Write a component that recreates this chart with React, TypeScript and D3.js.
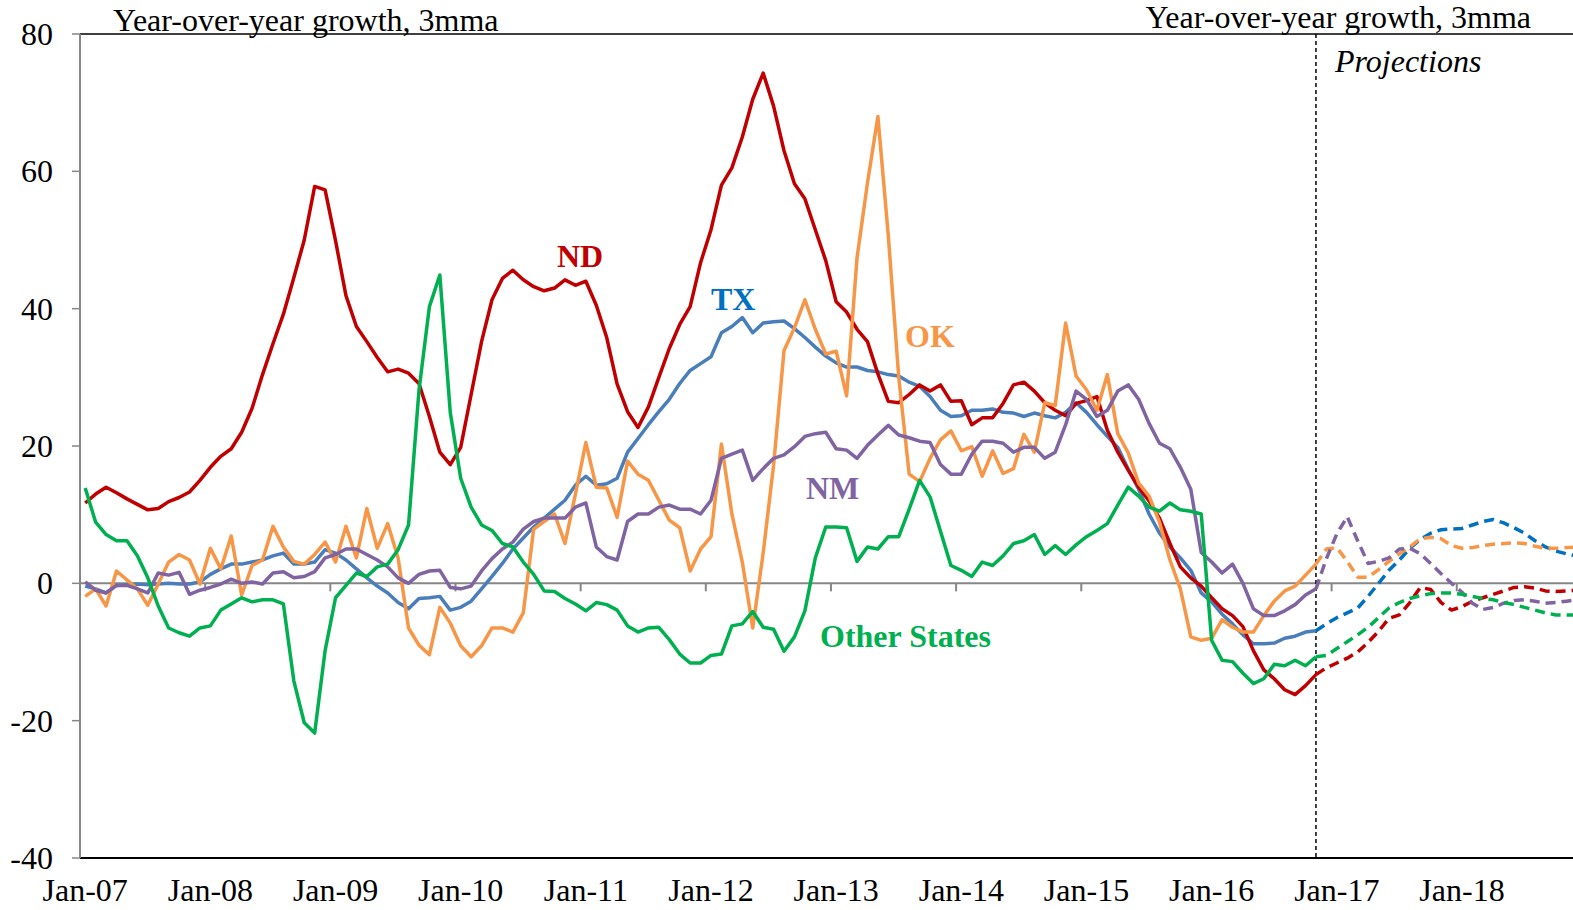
import React, { useEffect, useRef } from "react";
import * as d3 from "d3";

// tick labels on the x axis (one per January)
const tickLabels = [
  "Jan-07", "Jan-08", "Jan-09", "Jan-10", "Jan-11", "Jan-12",
  "Jan-13", "Jan-14", "Jan-15", "Jan-16", "Jan-17", "Jan-18",
];
const yTicks = [80, 60, 40, 20, 0, -20, -40];

// actual data, Jan-07 .. Nov-16 (119 months)
const nd = [
  11.7, 13.0, 14.0, 13.2, 12.3, 11.5, 10.7, 10.9, 11.9, 12.5,
  13.3, 15.0, 16.9, 18.5, 19.6, 22.0, 25.5, 30.4, 34.9, 39.2,
  44.5, 50.0, 57.8, 57.3, 49.9, 41.9, 37.4, 35.2, 32.9, 30.8,
  31.2, 30.6, 29.1, 24.3, 19.1, 17.3, 19.8, 27.5, 35.2, 41.3,
  44.4, 45.6, 44.2, 43.2, 42.6, 43.0, 44.2, 43.4, 44.0, 40.5,
  35.8, 29.0, 25.0, 22.7, 25.7, 30.0, 34.2, 37.7, 40.3, 46.7,
  51.5, 58.0, 60.5, 65.0, 70.5, 74.3, 69.5, 63.0, 58.2, 56.0,
  51.5, 47.0, 41.0, 39.5, 37.0, 35.2, 30.5, 26.5, 26.3, 27.5,
  28.9, 28.0, 28.9, 26.5, 26.6, 23.1, 24.1, 24.1, 26.2, 28.9,
  29.3, 28.0, 26.3, 25.2, 24.4, 26.2, 26.6, 27.2, 22.3, 19.1,
  16.5, 14.0, 12.0, 9.5, 5.8, 2.4, 0.8, -0.4, -2.1, -3.7,
  -4.7, -6.3, -9.8, -12.6, -13.9, -15.5, -16.2, -14.9, -13.3,
];
const tx = [
  -0.4, -0.8, -1.4, -0.3, -0.2, -0.1, -0.2, -0.1, 0.0, -0.1,
  -0.1, 0.2, 1.3, 2.1, 2.8, 2.8, 3.1, 3.4, 4.0, 4.4,
  2.8, 2.8, 3.1, 4.9, 4.4, 3.4, 2.1, 0.8, -0.4, -1.4,
  -2.8, -3.7, -2.2, -2.1, -1.9, -3.9, -3.5, -2.6, -0.8, 1.0,
  2.9, 5.0, 6.6, 8.2, 9.5, 10.8, 12.1, 14.3, 15.6, 14.3,
  14.5, 15.3, 19.1, 21.1, 23.1, 25.0, 26.8, 29.1, 31.0, 32.0,
  33.0, 36.5, 37.4, 38.7, 36.5, 37.9, 38.1, 38.2, 37.1, 35.8,
  34.4, 33.1, 32.1, 31.5, 31.5, 31.0, 30.8, 30.4, 30.2, 29.3,
  28.7, 27.2, 25.2, 24.3, 24.4, 25.2, 25.2, 25.4, 24.9, 24.8,
  24.3, 24.8, 24.4, 24.1, 24.9, 26.3, 24.9, 23.1, 21.4, 19.8,
  16.6, 13.7, 10.1, 7.3, 5.3, 3.7, 1.9, -1.4, -2.7, -4.5,
  -5.9, -7.5, -8.8, -8.8, -8.7, -8.0, -7.7, -7.1, -6.9,
];
const ok = [
  -1.9, -0.8, -3.3, 1.8, 0.5, -0.8, -3.2, -0.1, 3.1, 4.2,
  3.4, -0.1, 5.1, 2.1, 6.9, -1.7, 2.6, 3.4, 8.3, 5.3,
  3.2, 2.8, 4.2, 6.0, 3.1, 8.3, 3.7, 10.9, 5.1, 8.7,
  3.7, -6.5, -9.0, -10.4, -3.5, -5.8, -9.1, -10.7, -9.1, -6.5,
  -6.5, -7.1, -4.3, 7.9, 9.0, 10.1, 5.8, 13.0, 20.5, 14.0,
  13.9, 9.6, 17.8, 15.9, 15.0, 12.1, 9.2, 8.1, 1.8, 5.0,
  6.8, 20.3, 10.1, 3.1, -6.5, 4.4, 17.2, 33.9, 37.2, 41.3,
  37.0, 33.4, 33.8, 27.3, 47.4, 58.3, 68.0, 50.6, 30.0, 15.9,
  14.8, 18.2, 20.9, 22.2, 19.3, 19.9, 15.6, 19.3, 16.0, 16.7,
  21.7, 19.1, 26.3, 25.9, 37.9, 30.2, 28.2, 25.2, 30.4, 21.8,
  19.0, 14.6, 12.7, 8.9, 3.4, -0.8, -7.8, -8.3, -8.0, -5.3,
  -6.4, -7.1, -7.1, -4.7, -2.6, -1.1, -0.4, 1.2, 2.8,
];
const nm = [
  0.2, -1.0, -1.4, -0.3, -0.3, -0.8, -1.4, 1.5, 1.2, 1.6,
  -1.6, -1.0, -0.6, -0.1, 0.6, 0.0, 0.2, -0.1, 1.5, 1.7,
  0.8, 1.0, 1.7, 3.7, 4.2, 5.0, 5.0, 4.2, 3.4, 2.4,
  0.8, 0.0, 1.3, 1.8, 1.9, -0.6, -0.8, -0.4, 1.8, 3.6,
  5.0, 6.0, 7.9, 9.0, 9.5, 9.5, 9.5, 11.1, 11.7, 5.3,
  3.9, 3.4, 9.0, 10.1, 10.1, 11.1, 11.4, 10.8, 10.8, 10.1,
  12.1, 18.2, 18.8, 19.4, 15.0, 16.7, 18.2, 18.7, 19.9, 21.4,
  21.8, 22.0, 19.6, 19.4, 18.2, 20.1, 21.6, 23.0, 21.6, 21.2,
  20.7, 20.5, 17.3, 15.9, 15.9, 18.8, 20.7, 20.7, 20.4, 19.1,
  19.8, 19.8, 18.2, 19.1, 23.1, 28.0, 26.8, 24.3, 25.2, 28.0,
  28.9, 26.8, 23.3, 20.4, 19.6, 16.9, 13.7, 4.5, 3.1, 1.5,
  2.8, 0.0, -3.7, -4.7, -4.7, -4.0, -3.1, -1.7, -0.8,
];
const other = [
  13.9, 8.9, 7.1, 6.2, 6.2, 4.0, 0.8, -3.3, -6.5, -7.2,
  -7.7, -6.5, -6.2, -3.9, -3.0, -2.1, -2.7, -2.4, -2.4, -3.0,
  -14.2, -20.3, -21.8, -9.8, -2.1, -0.3, 1.5, 1.0, 2.4, 2.8,
  4.9, 8.5, 28.1, 40.3, 44.9, 24.9, 15.3, 11.1, 8.5, 7.7,
  5.8, 5.3, 3.1, 1.3, -1.1, -1.2, -2.2, -3.0, -4.0, -2.8,
  -3.1, -3.9, -6.2, -7.1, -6.5, -6.4, -8.2, -10.3, -11.6, -11.6,
  -10.5, -10.3, -6.2, -5.9, -4.1, -6.4, -6.7, -9.9, -7.8, -4.0,
  3.7, 8.2, 8.2, 8.1, 3.2, 5.3, 5.0, 6.8, 6.8, 10.8,
  15.0, 12.6, 7.6, 2.6, 1.9, 1.0, 3.1, 2.6, 4.0, 5.8,
  6.2, 7.1, 4.2, 5.5, 4.2, 5.6, 6.8, 7.7, 8.7, 11.4,
  14.0, 12.7, 11.1, 10.5, 11.7, 10.7, 10.5, 10.1, -8.3, -11.2,
  -11.4, -13.1, -14.6, -13.9, -11.8, -12.0, -11.2, -12.0, -10.7,
];

// projections, Nov-16 .. Dec-18 (26 months)
const ndProj = [
  -13.3, -12.3, -11.6, -10.9, -10.0, -8.6, -7.0, -5.1, -4.6, -2.8, -0.6, -0.9, -2.8,
  -3.9, -3.4, -2.6, -2.1, -1.6, -1.1, -0.6, -0.5, -0.7, -1.1, -1.2, -1.1, -1.0,
];
const txProj = [
  -6.9, -5.9, -5.0, -4.3, -3.6, -1.9, 0.0, 1.9, 3.4, 5.1, 6.4, 7.3, 7.8,
  7.9, 8.0, 8.5, 9.0, 9.3, 8.8, 8.1, 7.3, 6.2, 5.3, 4.7, 4.3, 4.0,
];
const okProj = [
  2.8, 5.0, 5.2, 3.2, 0.9, 0.9, 2.0, 3.2, 4.3, 5.3, 6.5, 6.7, 6.5,
  5.5, 5.1, 5.2, 5.5, 5.7, 5.8, 5.9, 5.8, 5.4, 5.1, 5.1, 5.2, 5.3,
];
const nmProj = [
  -0.8, 3.6, 7.2, 9.7, 6.2, 2.9, 3.2, 3.7, 5.0, 5.1, 4.3, 2.9, 1.4,
  0.0, -1.3, -2.9, -3.8, -3.5, -2.9, -2.5, -2.4, -2.6, -2.9, -2.8, -2.6, -2.4,
];
const otherProj = [
  -10.7, -10.5, -9.5, -8.5, -7.5, -6.4, -5.0, -3.6, -2.8, -2.2, -1.8, -1.5, -1.4,
  -1.4, -1.6, -1.9, -2.2, -2.4, -2.8, -3.1, -3.5, -3.9, -4.3, -4.6, -4.6, -4.6,
];

const W = 1573;
const H = 910;
const nMonths = 144;
const lastActual = 118;
const font = "'Liberation Serif', 'Times New Roman', serif";

function App() {
  const chartRef = useRef(null);

  useEffect(() => {
    const svg = d3
      .select(chartRef.current)
      .append("svg")
      .attr("width", W)
      .attr("height", H)
      .style("display", "block")
      .style("font-family", font);

    const x = d3
      .scaleBand()
      .domain(d3.range(nMonths))
      .range([80, 80 + nMonths * 10.43]);
    const cx = (i) => x(i) + x.bandwidth() / 2;
    const y = d3.scaleLinear().domain([-40, 80]).range([858, 34]);

    const axisGray = "#868686";

    // zero line with yearly ticks
    svg.append("line")
      .attr("x1", 80).attr("x2", W)
      .attr("y1", y(0)).attr("y2", y(0))
      .attr("stroke", axisGray).attr("stroke-width", 2);
    svg.selectAll(".xtick")
      .data(d3.range(12, nMonths, 12))
      .enter()
      .append("line")
      .attr("x1", (d) => x(d)).attr("x2", (d) => x(d))
      .attr("y1", y(0)).attr("y2", y(0) + 8)
      .attr("stroke", axisGray).attr("stroke-width", 2);

    // top and bottom frame lines
    svg.append("line")
      .attr("x1", 80).attr("x2", W)
      .attr("y1", y(80)).attr("y2", y(80))
      .attr("stroke", "#000").attr("stroke-width", 1.5);
    svg.append("line")
      .attr("x1", 80).attr("x2", W)
      .attr("y1", y(-40)).attr("y2", y(-40))
      .attr("stroke", "#000").attr("stroke-width", 2);

    // y axis
    svg.append("line")
      .attr("x1", 80).attr("x2", 80)
      .attr("y1", y(80)).attr("y2", y(-40))
      .attr("stroke", axisGray).attr("stroke-width", 2);
    svg.selectAll(".ytick")
      .data(yTicks)
      .enter()
      .append("line")
      .attr("x1", 72).attr("x2", 80)
      .attr("y1", (d) => y(d)).attr("y2", (d) => y(d))
      .attr("stroke", axisGray).attr("stroke-width", 1.5);
    svg.selectAll(".ylabel")
      .data(yTicks)
      .enter()
      .append("text")
      .attr("x", 53)
      .attr("y", (d) => y(d) + 11)
      .attr("text-anchor", "end")
      .attr("font-size", 32)
      .text((d) => d);

    // x labels
    svg.selectAll(".xlabel")
      .data(tickLabels)
      .enter()
      .append("text")
      .attr("x", (d, k) => cx(k * 12))
      .attr("y", 901)
      .attr("text-anchor", "middle")
      .attr("font-size", 32)
      .text((d) => d);

    // projection divider
    svg.append("line")
      .attr("x1", cx(lastActual)).attr("x2", cx(lastActual))
      .attr("y1", y(80)).attr("y2", y(-40))
      .attr("stroke", "#000").attr("stroke-width", 1.5)
      .attr("stroke-dasharray", "4,3");

    const line = d3
      .line()
      .x((d) => cx(d[0]))
      .y((d) => y(d[1]));

    const series = [
      { vals: tx, proj: txProj, color: "#4A7EBB", projColor: "#0070C0" },
      { vals: nd, proj: ndProj, color: "#C00000", projColor: "#C00000" },
      { vals: ok, proj: okProj, color: "#F79646", projColor: "#F79646" },
      { vals: nm, proj: nmProj, color: "#8064A2", projColor: "#8064A2" },
      { vals: other, proj: otherProj, color: "#00B050", projColor: "#00B050" },
    ];

    series.forEach((s) => {
      svg.append("path")
        .attr("d", line(s.vals.map((v, i) => [i, v])))
        .attr("fill", "none")
        .attr("stroke", s.color)
        .attr("stroke-width", 3.5)
        .attr("stroke-linejoin", "round");
    });
    series.forEach((s) => {
      svg.append("path")
        .attr("d", line(s.proj.map((v, i) => [lastActual + i, v])))
        .attr("fill", "none")
        .attr("stroke", s.projColor)
        .attr("stroke-width", 3.5)
        .attr("stroke-dasharray", "10,6")
        .attr("stroke-linejoin", "round");
    });

    // titles
    svg.append("text")
      .attr("x", 113).attr("y", 31)
      .attr("font-size", 32)
      .text("Year-over-year growth, 3mma");
    svg.append("text")
      .attr("x", 1531).attr("y", 28)
      .attr("text-anchor", "end")
      .attr("font-size", 32)
      .text("Year-over-year growth, 3mma");
    svg.append("text")
      .attr("x", 1335).attr("y", 72)
      .attr("font-size", 32)
      .attr("font-style", "italic")
      .text("Projections");

    // series labels
    const labels = [
      { text: "ND", x: 557, y: 267, color: "#C00000" },
      { text: "TX", x: 711, y: 310, color: "#0070C0" },
      { text: "OK", x: 905, y: 347, color: "#F79646" },
      { text: "NM", x: 806, y: 499, color: "#8064A2" },
      { text: "Other States", x: 820, y: 647, color: "#00B050" },
    ];
    svg.selectAll(".slabel")
      .data(labels)
      .enter()
      .append("text")
      .attr("x", (d) => d.x)
      .attr("y", (d) => d.y)
      .attr("font-size", 32)
      .attr("font-weight", "bold")
      .attr("fill", (d) => d.color)
      .text((d) => d.text);

    return () => svg.remove();
  }, []);

  return (
    <div
      ref={chartRef}
      style={{ position: "absolute", left: 0, top: 0, width: W, height: H, overflow: "hidden" }}
    ></div>
  );
}

export default App;
